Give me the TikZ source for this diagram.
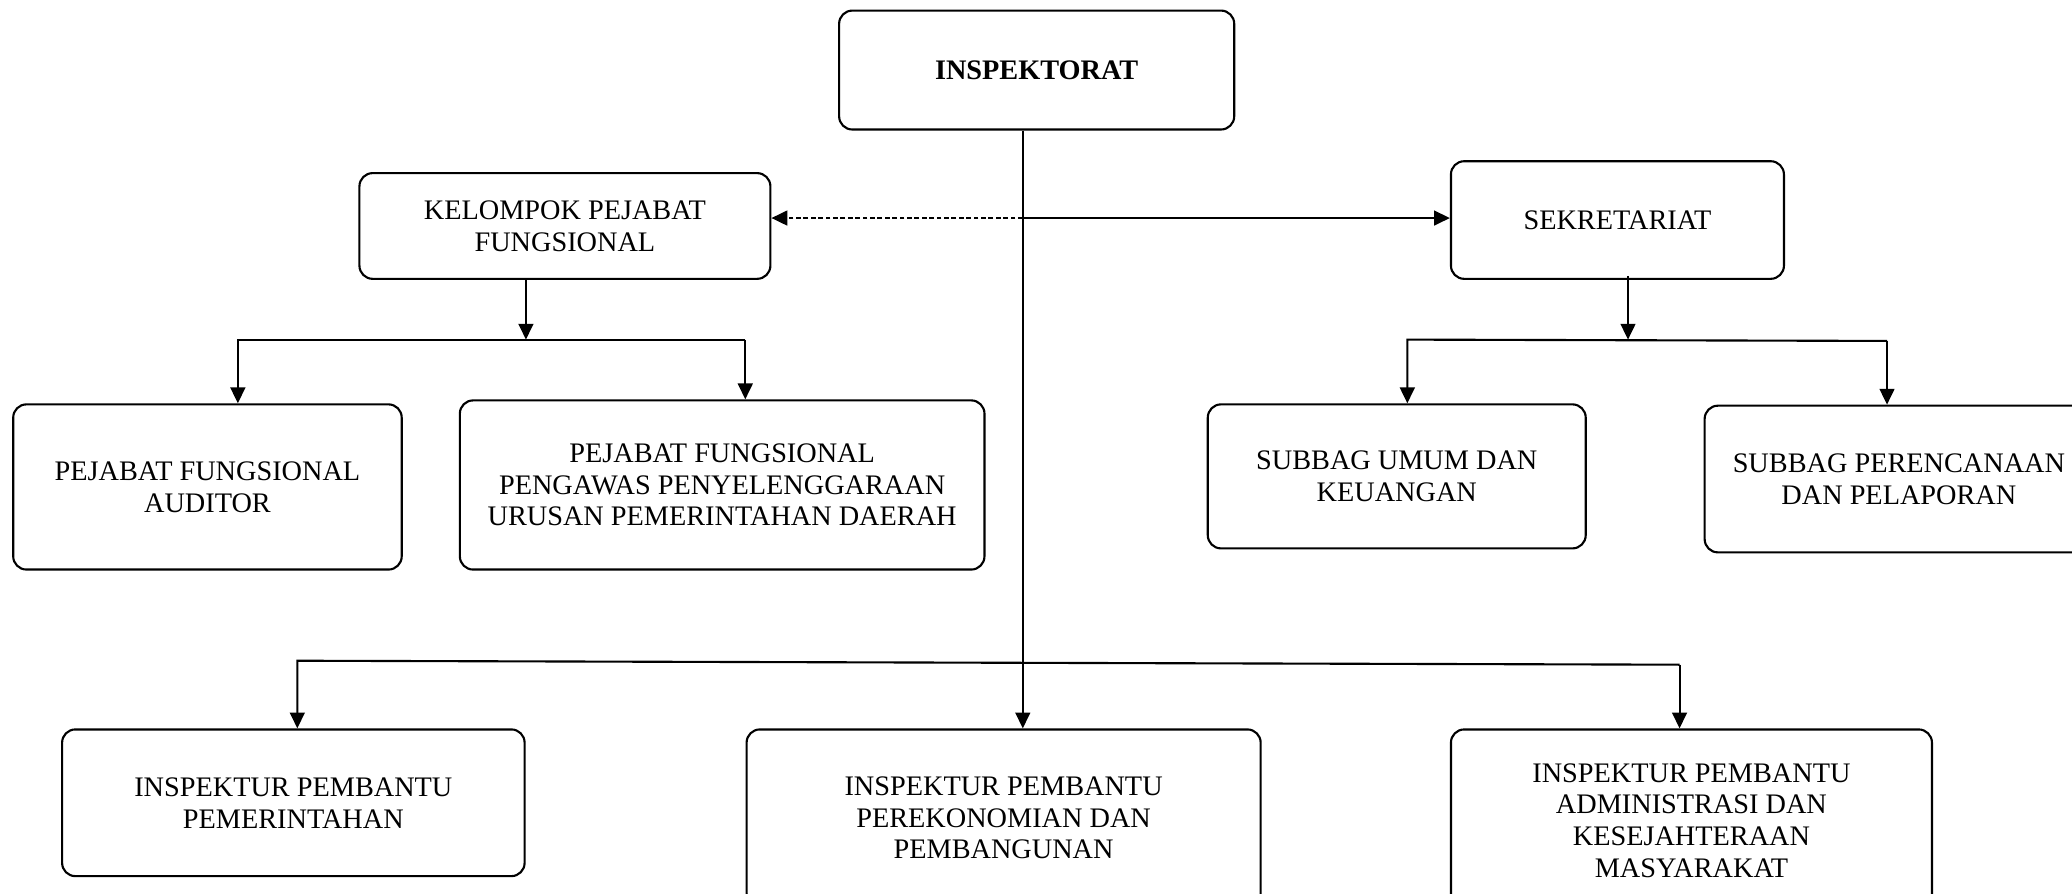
\documentclass[tikz,border=0pt]{standalone}
\usepackage{fontspec}
\setmainfont{Liberation Serif}
\usepackage{tikz}
\usetikzlibrary{
	arrows.meta,
	calc
}
\tikzset{
  % arrow
	cstra/.style      ={-{Triangle[length=6pt,width=5.6pt]}, line width=0.8pt},
	cstdash/.style    ={dash pattern=on 1.8pt off 1pt},
  % node
	cstnode/.style    ={fill=white,draw=black,text=black,rounded corners=5pt,line width=0.8pt,
	                    align=center,inner sep=2pt,font=\fontsize{10.7}{12}\selectfont},
	cstsize/.style 2 args={minimum width=#1,minimum height=#2}
}

\begin{document}
\begin{tikzpicture}[x=0.5pt,y=-0.5pt]
	\useasboundingbox (0,0) rectangle (1568,676);
	\clip (0,0) rectangle (1568,676);
	% boxes
	\node[cstnode,cstsize={149.5pt}{45pt}] (insp) at (784.5,53) {\textbf{INSPEKTORAT}};
	\node[cstnode,cstsize={155.5pt}{40pt}] (kel) at (427.5,171) {KELOMPOK PEJABAT\\FUNGSIONAL};
	\node[cstnode,cstsize={126pt}{44.5pt}] (sek) at (1224,166.5) {SEKRETARIAT};
	\node[cstnode,cstsize={147pt}{62.5pt}] (aud) at (157,368.5) {PEJABAT FUNGSIONAL\\AUDITOR};
	\node[cstnode,cstsize={198.5pt}{64pt}] (ppupd) at (546.5,367) {PEJABAT FUNGSIONAL\\PENGAWAS PENYELENGGARAAN\\URUSAN PEMERINTAHAN DAERAH};
	\node[cstnode,cstsize={143pt}{54.5pt}] (umum) at (1057,360.5) {SUBBAG UMUM DAN\\KEUANGAN};
	\node[cstnode,cstsize={147pt}{55.5pt}] (renc) at (1437,362.5) {SUBBAG PERENCANAAN\\DAN PELAPORAN};
	\node[cstnode,cstsize={175pt}{55.5pt}] (pem) at (222,607.5) {INSPEKTUR PEMBANTU\\PEMERINTAHAN};
	\node[cstnode,cstsize={194.5pt}{67pt}] (eko) at (759.5,619) {INSPEKTUR PEMBANTU\\PEREKONOMIAN DAN\\PEMBANGUNAN};
	\node[cstnode,cstsize={182pt}{69pt}] (kes) at (1280,621) {INSPEKTUR PEMBANTU\\ADMINISTRASI DAN\\KESEJAHTERAAN\\MASYARAKAT};
	% junctions
	\coordinate (spine) at (774,165);
	\coordinate (ka) at (180,257);
	\coordinate (kb) at (398,257);
	\coordinate (kc) at (564,257);
	\coordinate (sa) at (1065,257);
	\coordinate (sb) at (1232,257);
	\coordinate (sc) at (1428,258);
	\coordinate (pa) at (225,500);
	\coordinate (pc) at (1271,503);
	% lines
	\draw[cstra] (insp.south -| spine) -- (eko.north -| spine);
	\draw[cstra] (spine) -- (sek.west |- spine);
	\draw[cstra,cstdash] (spine) -- (kel.east |- spine);
	\draw[cstra] (kel.south -| kb) -- (kb);
	\draw[cstra] (kc) -- (ka) -- (aud.north -| ka);
	\draw[cstra] (kc) -- (ppupd.north -| kc);
	\draw[cstra] ($(sek.south -| sb)+(0,-3)$) -- (sb);
	\draw[cstra] (sc) -- (sa) -- (umum.north -| sa);
	\draw[cstra] (sc) -- (renc.north -| sc);
	\draw[cstra] (pc) -- (pa) -- (pem.north -| pa);
	\draw[cstra] (pc) -- (kes.north -| pc);
\end{tikzpicture}
\end{document}
